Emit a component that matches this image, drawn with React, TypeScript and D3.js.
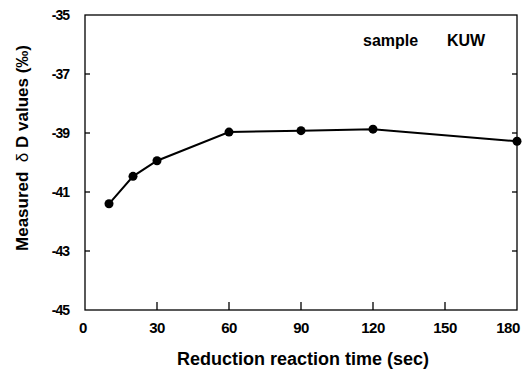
import React from "react";
import * as d3 from "d3";

const times = [10, 20, 30, 60, 90, 120, 180];
const deltaD = [-41.4, -40.47, -39.94, -38.97, -38.92, -38.87, -39.28];
const xTicks = [0, 30, 60, 90, 120, 150, 180];
const yTicks = [-45, -43, -41, -39, -37, -35];

export default function App() {
  const W = 524, H = 379;
  const left = 85, right = 517, top = 15, bottom = 310;
  const x = d3.scaleLinear().domain([0, 180]).range([left, right]);
  const y = d3.scaleLinear().domain([-45, -35]).range([bottom, top]);
  const line = d3.line<number>().x((_, i) => x(times[i])).y((d) => y(d));
  const font = "'Liberation Sans', Arial, sans-serif";
  return (
    <svg width={W} height={H} style={{ position: "absolute", left: 0, top: 0, background: "#fff" }} fontFamily={font}>
      <rect x={left} y={top} width={right - left} height={bottom - top} fill="none" stroke="#000" strokeWidth={1.3} />
      {xTicks.slice(1, -1).map((t) => (
        <line key={"xt" + t} x1={x(t)} x2={x(t)} y1={bottom} y2={bottom - 8} stroke="#000" strokeWidth={1.3} />
      ))}
      {yTicks.slice(1, -1).map((t) => (
        <g key={"yt" + t}>
          <line x1={left} x2={left + 5} y1={y(t)} y2={y(t)} stroke="#000" strokeWidth={1.3} />
          <line x1={right} x2={right - 5} y1={y(t)} y2={y(t)} stroke="#000" strokeWidth={1.3} />
        </g>
      ))}
      {xTicks.map((t, i) => (
        <text key={"xl" + t} x={i === xTicks.length - 1 ? x(t) - 9 : x(t) - (i === 0 ? 2 : 0)} y={bottom + 23} textAnchor="middle" fontSize={15} fontWeight="bold" letterSpacing={-0.5}>{t}</text>
      ))}
      {yTicks.map((t) => (
        <text key={"yl" + t} x={left - 16} y={y(t) + 5} textAnchor="end" fontSize={14} fontWeight="bold" letterSpacing={-1}>{t}</text>
      ))}
      <path d={line(deltaD) || ""} fill="none" stroke="#000" strokeWidth={2} />
      {deltaD.map((d, i) => (
        <circle key={"p" + i} cx={x(times[i])} cy={y(d)} r={4.5} fill="#000" />
      ))}
      <text x={363} y={46} fontSize={16} fontWeight="bold">sample</text>
      <text x={447} y={46} fontSize={16} fontWeight="bold">KUW</text>
      <text x={303} y={365} textAnchor="middle" fontSize={18} fontWeight="bold">Reduction reaction time (sec)</text>
      <text transform={`translate(28,148) rotate(-90)`} textAnchor="middle" fontSize={17} fontWeight="bold" xmlSpace="preserve">
        {"Measured  "}<tspan fontWeight="normal">δ</tspan>{" D values (‰)"}
      </text>
    </svg>
  );
}
